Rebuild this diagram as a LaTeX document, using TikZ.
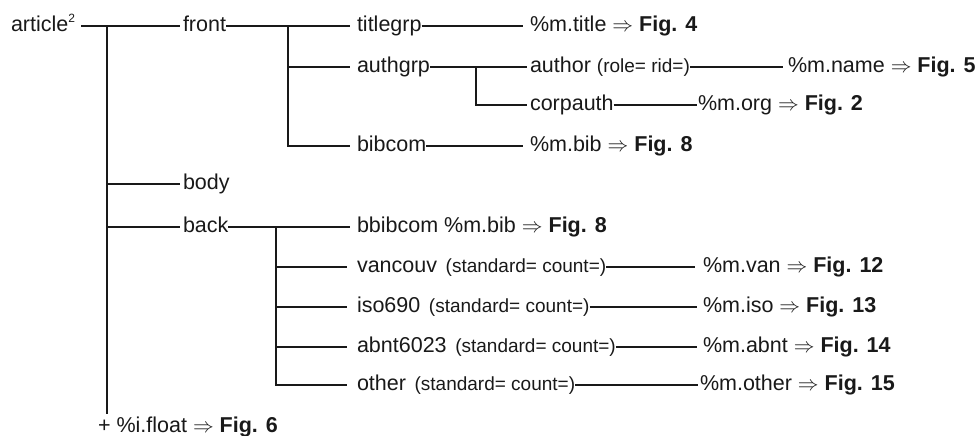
\documentclass[tikz,border=0pt]{standalone}
\usepackage{fontspec}
\setmainfont{Liberation Sans}
\newcommand\mainsz{\fontsize{21.5}{25}\selectfont}
\newcommand\smp[1]{{\fontsize{19}{22}\selectfont #1}}
\newcommand\ra{ $\Rightarrow$ }
\begin{document}
\begin{tikzpicture}[x=1pt,y=-1pt,
  lbl/.style={anchor=west, inner sep=0pt, outer sep=0pt, text height=17pt, text depth=5.6pt, font=\mainsz, text=black!90},
  conn/.style={line width=2.4pt, line cap=butt, draw=black!90}]
\useasboundingbox (0,0) rectangle (977,436);
% nodes
\node[lbl] (article) at (11,26) {article\raisebox{0.45em}{\fontsize{12}{12}\selectfont 2}};
\node[lbl] (front) at (183,26) {front};
\node[lbl] (titlegrp) at (357,26) {titlegrp};
\node[lbl] (mtitle) at (530,26) {\%m.title\ra\textbf{Fig. 4}};
\node[lbl] (authgrp) at (357,67) {authgrp};
\node[lbl] (author) at (530,67) {author \smp{(role= rid=)}};
\node[lbl] (mname) at (788,67) {\%m.name\ra\textbf{Fig. 5}};
\node[lbl] (corpauth) at (530,105) {corpauth};
\node[lbl] (morg) at (698,105) {\%m.org\ra\textbf{Fig. 2}};
\node[lbl] (bibcom) at (357,146) {bibcom};
\node[lbl] (mbib) at (530,146) {\%m.bib\ra\textbf{Fig. 8}};
\node[lbl] (body) at (183,184) {body};
\node[lbl] (back) at (183,227) {back};
\node[lbl] (bbibcom) at (357,227) {bbibcom \%m.bib\ra\textbf{Fig. 8}};
\node[lbl] (vancouv) at (357,267) {vancouv\hspace{0.4em}\smp{(standard= count=)}};
\node[lbl] (mvan) at (703,267) {\%m.van\ra\textbf{Fig. 12}};
\node[lbl] (iso) at (357,307) {iso690\hspace{0.4em}\smp{(standard= count=)}};
\node[lbl] (miso) at (703,307) {\%m.iso\ra\textbf{Fig. 13}};
\node[lbl] (abnt) at (357,347) {abnt6023\hspace{0.4em}\smp{(standard= count=)}};
\node[lbl] (mabnt) at (703,347) {\%m.abnt\ra\textbf{Fig. 14}};
\node[lbl] (other) at (357,385) {other\hspace{0.4em}\smp{(standard= count=)}};
\node[lbl] (mother) at (700,385) {\%m.other\ra\textbf{Fig. 15}};
\node[lbl] (float) at (98,427) {+ \%i.float\ra\textbf{Fig. 6}};
% branch coordinates
\coordinate (v1) at (107,26);
\coordinate (v1end) at (107,414);
\coordinate (v2) at (288,26);
\coordinate (v3) at (476,67);
\coordinate (v4) at (276,227);
% connectors
\draw[conn] ([xshift=6pt]article.east) -- ([xshift=-3pt]front.west);
\draw[conn] (v1) -- (v1end);
\draw[conn] (v1 |- body.west) -- ([xshift=-3pt]body.west);
\draw[conn] (v1 |- back.west) -- ([xshift=-3pt]back.west);
\draw[conn] (front.east) -- ([xshift=-7pt]titlegrp.west);
\draw[conn] (v2) -- (v2 |- bibcom.west) -- ([xshift=-7pt]bibcom.west);
\draw[conn] (v2 |- authgrp.west) -- ([xshift=-7pt]authgrp.west);
\draw[conn] (titlegrp.east) -- ([xshift=-7pt]mtitle.west);
\draw[conn] (authgrp.east) -- ([xshift=-3pt]author.west);
\draw[conn] (v3) -- (v3 |- corpauth.west) -- ([xshift=-3pt]corpauth.west);
\draw[conn] (author.east) -- ([xshift=-5pt]mname.west);
\draw[conn] (corpauth.east) -- ([xshift=-1pt]morg.west);
\draw[conn] (bibcom.east) -- ([xshift=-7pt]mbib.west);
\draw[conn] (back.east) -- ([xshift=-7pt]bbibcom.west);
\draw[conn] (v4) -- (v4 |- other.west) -- ([xshift=-10pt]other.west);
\draw[conn] (v4 |- vancouv.west) -- ([xshift=-10pt]vancouv.west);
\draw[conn] (v4 |- iso.west) -- ([xshift=-10pt]iso.west);
\draw[conn] (v4 |- abnt.west) -- ([xshift=-10pt]abnt.west);
\draw[conn] (vancouv.east) -- ([xshift=-8pt]mvan.west);
\draw[conn] (iso.east) -- ([xshift=-6pt]miso.west);
\draw[conn] (abnt.east) -- ([xshift=-6pt]mabnt.west);
\draw[conn] (other.east) -- ([xshift=-2pt]mother.west);
\end{tikzpicture}
\end{document}
